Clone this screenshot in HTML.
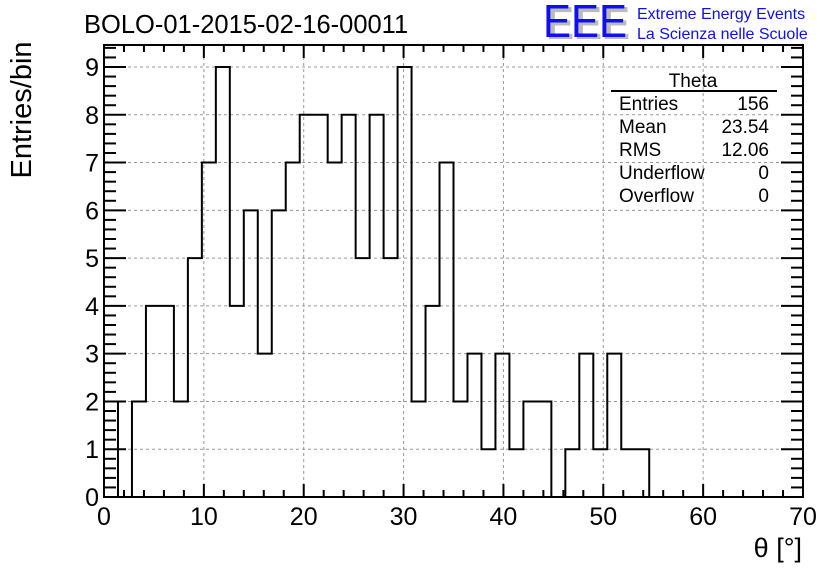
<!DOCTYPE html>
<html><head><meta charset="utf-8"><style>
body{margin:0;background:#fff;}
svg{display:block;font-family:"Liberation Sans",sans-serif;}
</style></head><body>
<svg id="c" width="836" height="572" viewBox="0 0 836 572" xmlns="http://www.w3.org/2000/svg">
<rect width="836" height="572" fill="#fff"/>
<text x="84" y="33" font-size="25.5">BOLO-01-2015-02-16-00011</text>
<g>
<text x="546" y="39" font-size="46" fill="#bbb" font-weight="bold" textLength="84" lengthAdjust="spacingAndGlyphs">EEE</text>
<text x="543" y="37" font-size="46" fill="#1010ee" textLength="84" lengthAdjust="spacingAndGlyphs">EEE</text>
<text x="637" y="19" font-size="16" fill="#1010ee">Extreme Energy Events</text>
<text x="637" y="39" font-size="16" fill="#1010ee">La Scienza nelle Scuole</text>
</g>
<g id="grid"></g>
<g id="hist"></g>
<g id="axes"></g>
<text x="31" y="110" font-size="29" transform="rotate(-90 31 110)" text-anchor="middle">Entries/bin</text>
<text x="802" y="557" font-size="27" text-anchor="end">θ [°]</text>
<g font-size="19">
<text x="693" y="87" text-anchor="middle">Theta</text>
<line x1="611" y1="91" x2="777" y2="91" stroke="#000" stroke-width="2"/>
<text x="619" y="110">Entries</text><text x="769" y="110" text-anchor="end">156</text>
<text x="619" y="133">Mean</text><text x="769" y="133" text-anchor="end">23.54</text>
<text x="619" y="156">RMS</text><text x="769" y="156" text-anchor="end">12.06</text>
<text x="619" y="179">Underflow</text><text x="769" y="179" text-anchor="end">0</text>
<text x="619" y="202">Overflow</text><text x="769" y="202" text-anchor="end">0</text>
</g>
</svg>
<script>
const binWidth = 1.4;
const counts = [2,0,2,4,4,2,5,7,9,4,6,3,6,7,8,8,7,8,5,8,5,9,2,4,7,2,3,1,3,1,2,2,0,1,3,1,3,1,1];
const xTicks = [0,10,20,30,40,50,60,70];
const yTicks = [0,1,2,3,4,5,6,7,8,9];
const X0=104,X1=803,Y0=497,YT=45;
const xs=v=>X0+(v/70)*(X1-X0);
const ys=v=>Y0-v*(497-67)/9;
const NS="http://www.w3.org/2000/svg";
function mk(p,t,a){const e=document.createElementNS(NS,t);for(const k in a)e.setAttribute(k,a[k]);p.appendChild(e);return e;}
const grid=document.getElementById('grid'),axes=document.getElementById('axes'),hist=document.getElementById('hist');
xTicks.forEach(t=>{if(t>0&&t<70){const l=mk(grid,'line',{x1:xs(t),x2:xs(t),y1:YT,y2:Y0,stroke:'#999','stroke-dasharray':'3,3'});

}});
yTicks.forEach(t=>{if(t>0){const l=mk(grid,'line',{x1:X0,x2:X1,y1:ys(t),y2:ys(t),stroke:'#999','stroke-dasharray':'3,3'});

}});
let d='M'+xs(0)+','+ys(0);
counts.forEach((c,i)=>{d+=' L'+xs(i*binWidth)+','+ys(c)+' L'+xs((i+1)*binWidth)+','+ys(c);});
d+=' L'+xs(counts.length*binWidth)+','+ys(0);
const p=mk(hist,'path',{d:d,fill:'none',stroke:'#000','stroke-width':2});


const fr=mk(axes,'rect',{x:X0,y:YT,width:X1-X0,height:Y0-YT,fill:'none',stroke:'#000','stroke-width':2});


for(let v=0;v<=70;v+=2){const maj=v%10===0;const L=maj?13:7;
mk(axes,'line',{x1:xs(v),x2:xs(v),y1:Y0,y2:Y0-L,stroke:'#000','stroke-width':2});
mk(axes,'line',{x1:xs(v),x2:xs(v),y1:YT,y2:YT+L,stroke:'#000','stroke-width':2});}
xTicks.forEach(t=>{const tx=mk(axes,'text',{x:xs(t),y:525,'font-size':25,'text-anchor':'middle'});tx.textContent=t;

});
for(let k=0;k<=47;k++){const v=k*0.2;if(ys(v)<YT)break;const maj=k%5===0;const L=maj?22:12;
mk(axes,'line',{x1:X0,x2:X0+L,y1:ys(v),y2:ys(v),stroke:'#000','stroke-width':2});
mk(axes,'line',{x1:X1,x2:X1-L,y1:ys(v),y2:ys(v),stroke:'#000','stroke-width':2});}
yTicks.forEach(t=>{const tx=mk(axes,'text',{x:99,y:ys(t)+9,'font-size':25,'text-anchor':'end'});tx.textContent=t;

});
</script>
</body></html>
